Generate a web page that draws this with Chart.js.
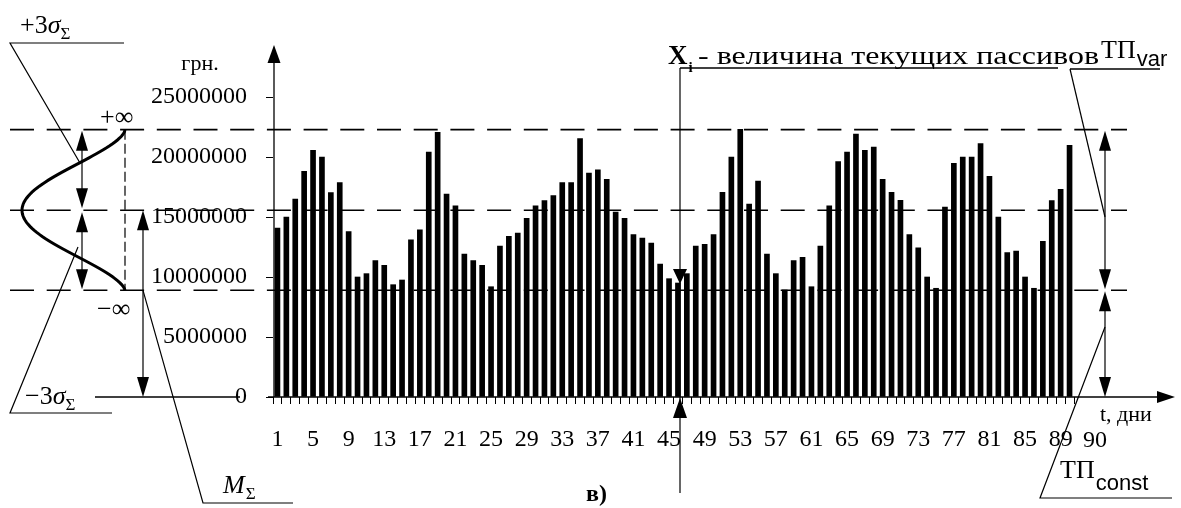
<!DOCTYPE html>
<html>
<head>
<meta charset="utf-8">
<script src="https://cdn.jsdelivr.net/npm/chart.js@4/dist/chart.umd.min.js"></script>
<style>
    html, body { margin: 0; padding: 0; background: #fff; }
</style>
</head>
<body>
<canvas id="chart_tp" width="1181" height="508"></canvas>
<script>
"use strict";

// days 1..90
const days = Array.from({ length: 90 }, (_, i) => String(i + 1));

// current liabilities per day, UAH
const liabilities = [
    14080000, 15000000, 16500000, 18800000, 20560000, 20000000, 17030000, 17860000, 13780000, 10000000,
    10280000, 11360000, 10970000, 9360000, 9750000, 13100000, 13940000, 20400000, 22050000, 16900000,
    15940000, 11920000, 11360000, 10970000, 9190000, 12580000, 13390000, 13670000, 14890000, 15940000,
    16360000, 16780000, 17860000, 17860000, 21530000, 18670000, 18940000, 18140000, 15420000, 14890000,
    13530000, 13250000, 12830000, 11080000, 9860000, 9500000, 10280000, 12580000, 12720000, 13530000,
    17060000, 20000000, 22310000, 16080000, 18000000, 11920000, 10280000, 8920000, 11360000, 11640000,
    9190000, 12580000, 15940000, 19610000, 20420000, 21920000, 20560000, 20830000, 18140000, 17060000,
    16390000, 13530000, 12440000, 10000000, 9060000, 15830000, 19470000, 20000000, 20000000, 21110000,
    18390000, 15000000, 12030000, 12170000, 10000000, 9060000, 12970000, 16360000, 17300000, 20970000
];

const yTicks = [0, 5000000, 10000000, 15000000, 20000000, 25000000];

// M +/- 3 sigma levels
const levelPlus3Sigma = 22280000;
const levelMean = 15560000;
const levelMinus3Sigma = 8890000;

const SERIF = '"Liberation Serif", "Times New Roman", serif';
const SANS = '"Liberation Sans", Arial, sans-serif';

const Draw = {
    line: (ctx, pts, w) => {
        ctx.beginPath();
        ctx.moveTo(pts[0][0], pts[0][1]);
        for (let i = 1; i < pts.length; i++) ctx.lineTo(pts[i][0], pts[i][1]);
        ctx.lineWidth = w || 1.2;
        ctx.stroke();
    },
    head: (ctx, x, y, dir, len, half) => {
        ctx.beginPath();
        ctx.moveTo(x, y);
        if (dir === "up") { ctx.lineTo(x - half, y + len); ctx.lineTo(x + half, y + len); }
        if (dir === "down") { ctx.lineTo(x - half, y - len); ctx.lineTo(x + half, y - len); }
        if (dir === "right") { ctx.lineTo(x - len, y - half); ctx.lineTo(x - len, y + half); }
        ctx.closePath();
        ctx.fill();
    },
    dblArrow: (ctx, x, yTop, yBot) => {
        Draw.line(ctx, [[x, yTop + 10], [x, yBot - 10]], 1.2);
        Draw.head(ctx, x, yTop, "up", 20, 6);
        Draw.head(ctx, x, yBot, "down", 20, 6);
    },
    text: (ctx, str, x, y, font, align) => {
        ctx.font = font;
        ctx.textAlign = align || "left";
        ctx.textBaseline = "alphabetic";
        ctx.fillText(str, x, y);
        return ctx.measureText(str).width;
    },
    // text stretched to a given width
    fitText: (ctx, str, x, y, font, width) => {
        ctx.font = font;
        ctx.textAlign = "left";
        ctx.textBaseline = "alphabetic";
        const k = width / ctx.measureText(str).width;
        ctx.save();
        ctx.translate(x, y);
        ctx.scale(k, 1);
        ctx.fillText(str, 0, 0);
        ctx.restore();
    }
};

const schemePlugin = {
    id: "scheme",
    afterDraw: chart => {
        const ctx = chart.ctx;
        const ys = chart.scales.y;
        const y0 = ys.getPixelForValue(0);
        const yUp = ys.getPixelForValue(levelPlus3Sigma);
        const yM = ys.getPixelForValue(levelMean);
        const yLo = ys.getPixelForValue(levelMinus3Sigma);
        const axisX = chart.chartArea.left + 1;

        ctx.save();
        ctx.strokeStyle = "#000";
        ctx.fillStyle = "#000";

        // axes with arrows
        Draw.line(ctx, [[axisX, y0], [axisX, 58]], 1.3);
        Draw.head(ctx, axisX, 45, "up", 18, 6.5);
        Draw.line(ctx, [[268, y0], [1162, y0]], 1.3);
        Draw.head(ctx, 1175, y0, "right", 18, 6);
        Draw.line(ctx, [[95, y0], [240, y0]], 1.3);

        // dashed levels
        ctx.setLineDash([24, 12.7]);
        for (const yy of [yUp, yM, yLo]) Draw.line(ctx, [[10, yy], [1127, yy]], 1.6);
        ctx.setLineDash([10, 4]);
        Draw.line(ctx, [[125, yUp], [125, yLo]], 1.2);
        ctx.setLineDash([]);

        // density curve on the left
        const half = (yLo - yUp) / 2;
        const pts = [];
        for (let k = 0; k <= 80; k++) {
            const d = -half + (2 * half) * k / 80;
            const f = Math.pow((1 + Math.cos(Math.PI * d / half)) / 2, 0.8);
            pts.push([125 - 103 * f, yM + d]);
        }
        Draw.line(ctx, pts, 3);

        Draw.dblArrow(ctx, 82, yUp + 1, yM - 2);
        Draw.dblArrow(ctx, 82, yM + 2, yLo - 1);
        Draw.dblArrow(ctx, 143, yM, y0);

        Draw.text(ctx, "+\u221E", 100, 125, "26px " + SERIF);
        Draw.text(ctx, "\u2212\u221E", 97, 317, "26px " + SERIF);

        // +3 sigma
        Draw.line(ctx, [[80, 163], [10, 43], [124, 43]], 1.2);
        let w = Draw.text(ctx, "+3", 20, 33, "26px " + SERIF);
        w += Draw.text(ctx, "\u03C3", 20 + w, 33, "italic 26px " + SERIF);
        Draw.text(ctx, "\u03A3", 20 + w, 39, "17px " + SERIF);

        // -3 sigma
        Draw.line(ctx, [[78, 247], [10, 413], [112, 413]], 1.2);
        w = Draw.text(ctx, "\u22123", 25, 404, "26px " + SERIF);
        w += Draw.text(ctx, "\u03C3", 25 + w, 404, "italic 26px " + SERIF);
        Draw.text(ctx, "\u03A3", 25 + w, 410, "17px " + SERIF);

        // M sigma
        Draw.line(ctx, [[143, yLo], [203, 503], [293, 503]], 1.2);
        w = Draw.text(ctx, "M", 223, 493, "italic 26px " + SERIF);
        Draw.text(ctx, "\u03A3", 224 + w, 499, "17px " + SERIF);

        Draw.text(ctx, "грн.", 200, 70, "22px " + SERIF, "center");

        // X_i pointer
        Draw.line(ctx, [[680, 68], [680, 493]], 1.2);
        Draw.line(ctx, [[680, 68], [1058, 68]], 1.5);
        Draw.head(ctx, 680, 284, "down", 15, 7);
        Draw.head(ctx, 680, y0 + 1, "up", 20, 7);
        w = Draw.text(ctx, "X", 668, 64, "bold 27px " + SERIF);
        Draw.text(ctx, "i", 668 + w + 1, 72, "bold 15px " + SERIF);
        Draw.fitText(ctx, "- величина текущих пассивов", 698, 64, "26px " + SERIF, 401);

        // TP var
        Draw.line(ctx, [[1070, 69], [1160, 69]], 1.5);
        Draw.line(ctx, [[1070, 69], [1105, 217]], 1.2);
        w = Draw.text(ctx, "ТП", 1101, 58, "26px " + SERIF);
        Draw.text(ctx, "var", 1101 + w + 1, 66, "22px " + SANS);
        Draw.dblArrow(ctx, 1105, yUp + 1, yLo - 1);
        Draw.dblArrow(ctx, 1105, yLo + 1, y0);

        // TP const
        Draw.line(ctx, [[1105, 327], [1040, 498], [1172, 498]], 1.2);
        w = Draw.text(ctx, "ТП", 1060, 478, "26px " + SERIF);
        Draw.text(ctx, "const", 1060 + w + 1, 490, "22px " + SANS);

        Draw.text(ctx, "t, дни", 1100, 421, "22px " + SERIF);
        Draw.text(ctx, days[89], 1095, 447, "24px " + SERIF, "center");
        Draw.text(ctx, "в)", 586, 501, "bold 24px " + SERIF);

        ctx.restore();
    }
};

const ctx = document.getElementById("chart_tp").getContext("2d");
const chart = new Chart(ctx, {
    type: "bar",
    data: {
        labels: days,
        datasets: [{
            data: liabilities,
            backgroundColor: "#000",
            barThickness: 5
        }]
    },
    options: {
        responsive: false,
        animation: false,
        layout: { padding: { top: 97, right: 107, left: 0, bottom: 0 } },
        plugins: { legend: { display: false }, tooltip: { enabled: false } },
        scales: {
            x: {
                grid: { drawOnChartArea: false, drawTicks: true, tickLength: 7, color: "#000", offset: true },
                border: { display: false },
                ticks: {
                    autoSkip: false,
                    maxRotation: 0,
                    padding: 21,
                    color: "#000",
                    font: { family: SERIF, size: 24 },
                    callback: (v, i) => (i % 4 === 0 ? days[i] : "")
                },
                afterFit: s => { s.height = 111; }
            },
            y: {
                min: 0,
                max: 25000000,
                afterBuildTicks: s => { s.ticks = yTicks.map(v => ({ value: v })); },
                grid: { drawOnChartArea: false, drawTicks: true, tickLength: 7, color: "#000" },
                border: { display: false },
                ticks: {
                    padding: 19,
                    color: "#000",
                    font: { family: SERIF, size: 24 },
                    callback: v => String(v)
                },
                afterFit: s => { s.width = 273; }
            }
        }
    },
    plugins: [schemePlugin]
});
</script>
</body>
</html>
